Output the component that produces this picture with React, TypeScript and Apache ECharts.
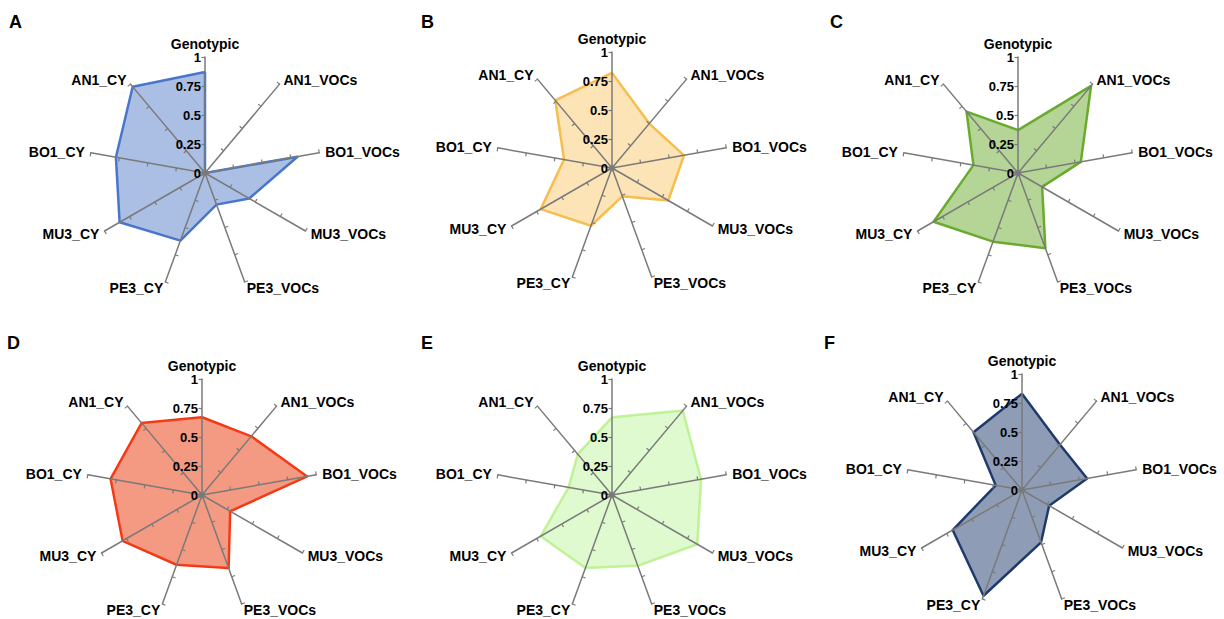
import React, { useEffect, useRef } from "react";
import * as echarts from "echarts";

// Axis names in clockwise order starting from the top
const axesClockwise = [
  "Genotypic",
  "AN1_VOCs",
  "BO1_VOCs",
  "MU3_VOCs",
  "PE3_VOCs",
  "PE3_CY",
  "MU3_CY",
  "BO1_CY",
  "AN1_CY",
];

const panelLetters = ["A", "B", "C", "D", "E", "F"];

// Values in the same clockwise order as axesClockwise
const valuesA = [0.87, 0.0, 0.81, 0.44, 0.29, 0.62, 0.85, 0.78, 0.97];
const valuesB = [0.82, 0.5, 0.63, 0.56, 0.26, 0.53, 0.71, 0.42, 0.76];
const valuesC = [0.37, 0.98, 0.55, 0.24, 0.69, 0.63, 0.84, 0.39, 0.69];
const valuesD = [0.67, 0.66, 0.92, 0.28, 0.67, 0.64, 0.79, 0.8, 0.81];
const valuesE = [0.67, 0.95, 0.78, 0.85, 0.65, 0.67, 0.71, 0.38, 0.46];
const valuesF = [0.83, 0.51, 0.57, 0.27, 0.48, 0.97, 0.69, 0.23, 0.65];

const tickValues = [0, 0.25, 0.5, 0.75, 1];

const panelValues = [valuesA, valuesB, valuesC, valuesD, valuesE, valuesF];

const strokeColors = ["#4a78cf", "#f7be4f", "#6aab2e", "#f8310e", "#c6f3a0", "#1f3a6e"];
const fillColors = [
  "rgba(68,114,196,0.45)",
  "rgba(247,188,76,0.4)",
  "rgba(106,171,46,0.5)",
  "rgba(236,80,40,0.58)",
  "rgba(160,240,110,0.33)",
  "rgba(31,58,110,0.5)",
];

const centers: [number, number][] = [
  [205, 173],
  [612, 168],
  [1018, 173],
  [202, 495],
  [612, 495],
  [1022, 490],
];
const letterPos: [number, number][] = [
  [9, 13],
  [421, 13],
  [830, 13],
  [7, 334],
  [421, 334],
  [824, 334],
];

const FONT = "Liberation Sans, Arial, sans-serif";

export default function App() {
  const ref = useRef<HTMLDivElement>(null);
  useEffect(() => {
    if (!ref.current) return;
    const chart = echarts.init(ref.current, undefined, { renderer: "svg" });

    // ECharts radar runs counter-clockwise: reorder from clockwise lists
    const ccwIdx = [0, 8, 7, 6, 5, 4, 3, 2, 1];

    const radars = centers.map((c) => ({
      z: 3,
      center: c,
      radius: 116,
      startAngle: 90,
      splitNumber: tickValues.length - 1,
      shape: "polygon",
      nameGap: 6,
      axisName: {
        color: "#000",
        fontWeight: "bold",
        fontSize: 14,
        fontFamily: FONT,
      },
      indicator: ccwIdx.map((k) => ({
        name: axesClockwise[k],
        min: tickValues[0],
        max: tickValues[tickValues.length - 1],
        ...(k === 0
          ? {
              axisLabel: {
                show: true,
                color: "#000",
                fontWeight: "bold",
                fontSize: 13,
                fontFamily: FONT,
                margin: 4,
              },
            }
          : {}),
      })),
      axisLine: { show: true, lineStyle: { color: "#7a7a7a", width: 1.5 } },
      axisTick: { show: true, length: 3.5, lineStyle: { color: "#7a7a7a", width: 1.2 } },
      axisLabel: { show: false },
      splitLine: { show: false },
      splitArea: { show: false },
    }));

    const series = panelValues.map((vals, i) => ({
      type: "radar",
      radarIndex: i,
      z: 2,
      symbol: "none",
      lineStyle: { color: strokeColors[i], width: 2.5 },
      areaStyle: { color: fillColors[i], opacity: 1 },
      data: [{ value: ccwIdx.map((k) => vals[k]), name: panelLetters[i] }],
    }));

    const graphic = panelLetters.map((l, i) => ({
      type: "text",
      left: letterPos[i][0],
      top: letterPos[i][1],
      style: {
        text: l,
        fill: "#000",
        font: `bold 18px ${FONT}`,
      },
    }));

    chart.setOption({
      animation: false,
      backgroundColor: "#fff",
      radar: radars,
      series,
      graphic,
    } as any);

    return () => chart.dispose();
  }, []);

  return (
    <div
      ref={ref}
      style={{ position: "fixed", left: 0, top: 0, width: 1224, height: 619 }}
    />
  );
}
